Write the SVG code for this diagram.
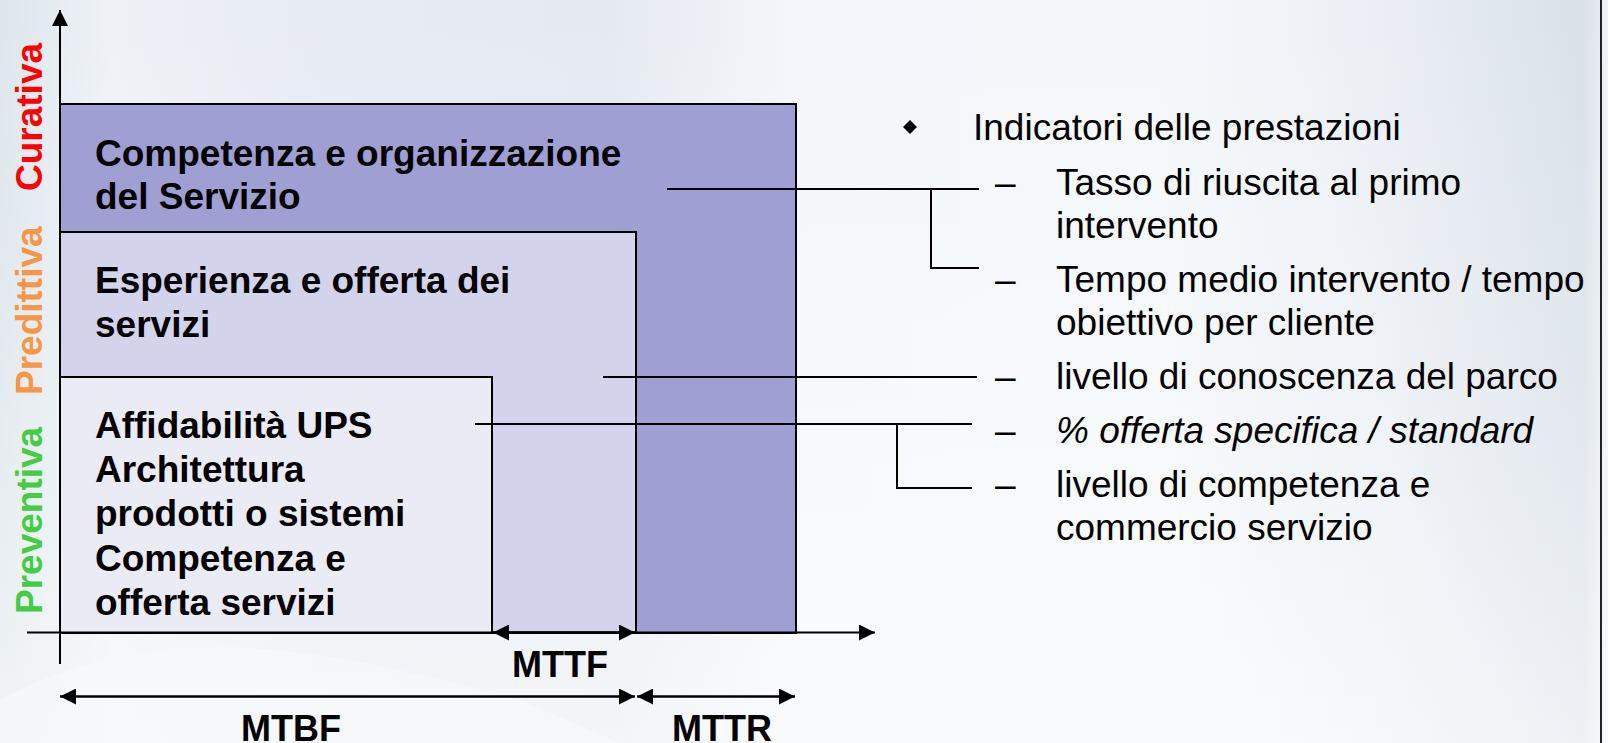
<svg xmlns="http://www.w3.org/2000/svg" width="1608" height="743" viewBox="0 0 1608 743">
  <defs>
    <linearGradient id="bgH" x1="0" y1="0" x2="1" y2="0">
      <stop offset="0" stop-color="#dde6ec"/>
      <stop offset="0.07" stop-color="#eef2f7"/>
      <stop offset="0.2" stop-color="#e7ebf3"/>
      <stop offset="0.38" stop-color="#e5eaf1"/>
      <stop offset="0.5" stop-color="#f4f7fb"/>
      <stop offset="0.72" stop-color="#f5f8fb"/>
      <stop offset="0.86" stop-color="#ebeff5"/>
      <stop offset="0.985" stop-color="#d9e1e9"/>
      <stop offset="1" stop-color="#eef2f6"/>
    </linearGradient>
    <linearGradient id="bgV" x1="0" y1="0" x2="0" y2="1">
      <stop offset="0" stop-color="#ffffff" stop-opacity="0"/>
      <stop offset="0.6" stop-color="#ffffff" stop-opacity="0.25"/>
      <stop offset="1" stop-color="#ffffff" stop-opacity="0.55"/>
    </linearGradient>
    <marker id="ah" viewBox="0 0 16 16" refX="16" refY="8" markerWidth="16" markerHeight="16" markerUnits="userSpaceOnUse" orient="auto-start-reverse">
      <path d="M0,0 L16,8 L0,16 Z" fill="#000"/>
    </marker>
    <style>
      .box { stroke: #000; stroke-width: 2; }
      .bold { font-family: "Liberation Sans", Arial, sans-serif; font-weight: bold; font-size: 37px; fill: #000; }
      .span { font-family: "Liberation Sans", Arial, sans-serif; font-weight: bold; font-size: 36px; fill: #000; }
      .reg { font-family: "Liberation Sans", Arial, sans-serif; font-size: 37px; fill: #000; }
      .axis { font-family: "Liberation Sans", Arial, sans-serif; font-weight: bold; font-size: 37px; }
      .ln { stroke: #000; stroke-width: 2; fill: none; }
      .arr { stroke: #000; stroke-width: 2.5; fill: none; }
    </style>
  </defs>

  <!-- background -->
  <rect x="0" y="0" width="1608" height="743" fill="url(#bgH)"/>
  <rect x="0" y="0" width="1608" height="743" fill="url(#bgV)"/>
  <path d="M0,700 C150,620 300,640 520,700 L620,743 L0,743 Z" fill="#f7f9fc" opacity="0.7"/>
  <line x1="1601" y1="0" x2="1601" y2="743" stroke="#222" stroke-width="2"/>

  <!-- axis labels -->
  <g id="label-curativa">
    <text class="axis" fill="#ff0000" transform="translate(42,191) rotate(-90)">Curativa</text>
  </g>
  <g id="label-predittiva">
    <text class="axis" fill="#f79646" transform="translate(42,395) rotate(-90)">Predittiva</text>
  </g>
  <g id="label-preventiva">
    <text class="axis" fill="#44cc44" transform="translate(42,614) rotate(-90)">Preventiva</text>
  </g>

  <!-- nodes -->
  <g id="node-curativa">
    <rect class="box" x="60" y="104" width="736" height="529" fill="#9f9fd4"/>
    <text class="bold" x="95" y="166">Competenza e organizzazione</text>
    <text class="bold" x="95" y="209">del Servizio</text>
  </g>
  <g id="node-predittiva">
    <rect class="box" x="60" y="232" width="576" height="401" fill="#d3d3eb"/>
    <text class="bold" x="95" y="293">Esperienza e offerta dei</text>
    <text class="bold" x="95" y="337">servizi</text>
  </g>
  <g id="node-preventiva">
    <rect class="box" x="60" y="377" width="432" height="256" fill="#ebebf6"/>
    <text class="bold" x="95" y="438">Affidabilità UPS</text>
    <text class="bold" x="95" y="482">Architettura</text>
    <text class="bold" x="95" y="526">prodotti o sistemi</text>
    <text class="bold" x="95" y="571">Competenza e</text>
    <text class="bold" x="95" y="615">offerta servizi</text>
  </g>

  <!-- indicators list -->
  <g id="node-indicatori">
    <path d="M910,120 L917,127 L910,134 L903,127 Z" fill="#000"/>
    <text class="reg" x="973" y="140">Indicatori delle prestazioni</text>
    <text class="reg" x="995" y="195">–</text>
    <text class="reg" x="1056" y="195">Tasso di riuscita al primo</text>
    <text class="reg" x="1056" y="238">intervento</text>
    <text class="reg" x="995" y="292">–</text>
    <text class="reg" x="1056" y="292">Tempo medio intervento / tempo</text>
    <text class="reg" x="1056" y="335">obiettivo per cliente</text>
    <text class="reg" x="995" y="389">–</text>
    <text class="reg" x="1056" y="389">livello di conoscenza del parco</text>
    <text class="reg" x="995" y="443">–</text>
    <text class="reg" x="1056" y="443" font-style="italic">% offerta specifica / standard</text>
    <text class="reg" x="995" y="497">–</text>
    <text class="reg" x="1056" y="497">livello di competenza e</text>
    <text class="reg" x="1056" y="540">commercio servizio</text>
  </g>

  <!-- axes, time spans and connectors -->
  <g id="connectors">
    <line class="ln" x1="60" y1="664" x2="60" y2="10" marker-end="url(#ah)"/>
    <line class="ln" x1="27" y1="632.5" x2="875" y2="632.5" stroke-width="3" marker-end="url(#ah)"/>
    <line class="arr" x1="493" y1="632.5" x2="635" y2="632.5" marker-start="url(#ah)" marker-end="url(#ah)"/>
    <line class="arr" x1="60" y1="696.5" x2="635" y2="696.5" marker-start="url(#ah)" marker-end="url(#ah)"/>
    <line class="arr" x1="637" y1="696.5" x2="795" y2="696.5" marker-start="url(#ah)" marker-end="url(#ah)"/>

    <polyline class="ln" points="667,189 979,189"/>
    <polyline class="ln" points="931,189 931,268 979,268"/>
    <polyline class="ln" points="603,377 977,377"/>
    <polyline class="ln" points="475,424 972,424"/>
    <polyline class="ln" points="897,424 897,488 972,488"/>
  </g>

  <g id="span-labels">
    <text class="span" x="560" y="677" text-anchor="middle">MTTF</text>
    <text class="span" x="291" y="741" text-anchor="middle">MTBF</text>
    <text class="span" x="722" y="741" text-anchor="middle">MTTR</text>
  </g>
</svg>
